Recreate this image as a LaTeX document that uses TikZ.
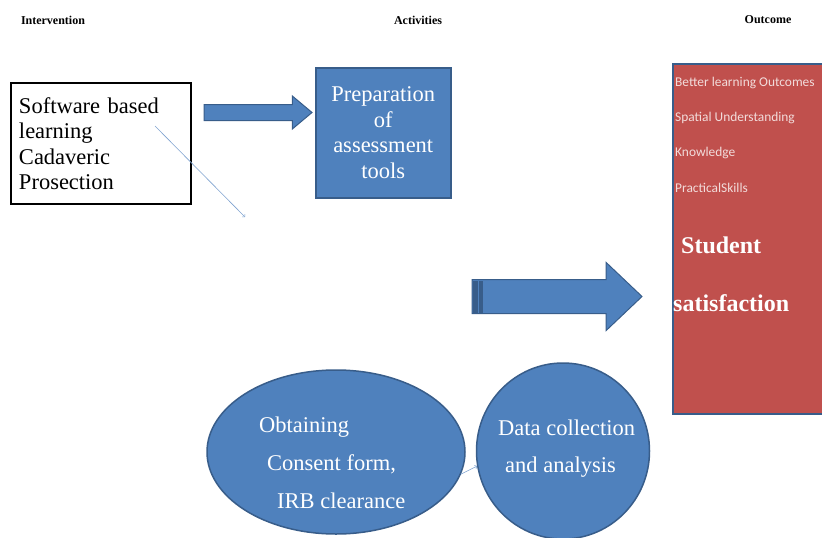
\documentclass[tikz,border=0pt]{standalone}
\usepackage{fontspec}
\setmainfont{Liberation Serif}
\newfontfamily\calfont{Carlito}
\usetikzlibrary{shapes.geometric,shapes.arrows}

\definecolor{boxblue}{HTML}{4F81BD}
\definecolor{edgeblue}{HTML}{385D8A}
\definecolor{boxred}{HTML}{C0504D}
\definecolor{lineblue}{HTML}{7FA3D0}
\definecolor{pinktext}{HTML}{F2DCDB}

\begin{document}
\begin{tikzpicture}[x=1pt,y=-1pt,
    header/.style={font=\fontsize{12}{14}\selectfont\bfseries},
    bluebox/.style={draw=edgeblue,fill=boxblue,line width=1.5pt},
    bigtext/.style={font=\fontsize{22.5}{25.5}\selectfont},
    blockarrow/.style={single arrow,draw=edgeblue,fill=boxblue,line width=1pt,
      anchor=tail,inner sep=0pt,outer sep=0pt},
    smalltext/.style={font=\calfont\fontsize{13.4}{15}\selectfont,text=pinktext,
      anchor=west,inner sep=0pt},
    bigwhite/.style={font=\fontsize{24}{26}\selectfont\bfseries,text=white,
      anchor=west,inner sep=0pt},
    thinarrow/.style={draw=lineblue,line width=0.6pt,-to}]
  \clip (0,0) rectangle (822,538);
  \fill[white] (0,0) rectangle (822,538);

  % column headings
  \node[header] (hint) at (53,20) {Intervention};
  \node[header] (hact) at (418,20) {Activities};
  \node[header] (hout) at (768,20) {Outcome};

  % intervention
  \node[draw=black,line width=2pt,minimum width=180pt,minimum height=121pt,
    text width=164pt,align=left,bigtext,anchor=north west] (soft) at (10,82)
    {Software based\\learning\\Cadaveric\\Prosection};

  % activities
  \node[bluebox,minimum width=135pt,minimum height=130pt,text width=128pt,
    align=center,bigtext,text=white,anchor=north west] (prep) at (315,67)
    {Preparation\\of\\assessment\\tools};

  \node[blockarrow,minimum height=108pt,minimum width=32pt,inner ysep=7.5pt,
    single arrow head extend=8.5pt,single arrow tip angle=80] (arrone) at (204,112.5) {};

  \coordinate (swstart) at (155,126);
  \coordinate (swend) at (245,217);
  \draw[thinarrow] (swstart) -- (swend);

  \node[blockarrow,minimum height=170pt,minimum width=67pt,inner ysep=16.5pt,
    single arrow head extend=17pt,single arrow tip angle=87] (arrtwo) at (472,296.5) {};
  \fill[edgeblue] (472.5,280.5) rectangle (483,312.5);
  \draw[boxblue,line width=1pt] (478,280.5) -- (478,312.5);

  \node[ellipse,bluebox,minimum width=258pt,minimum height=164pt,inner sep=0pt] (obtain) at (336,452) {};
  \node[ellipse,bluebox,minimum width=173pt,minimum height=176pt,inner sep=0pt] (data) at (563,451) {};
  \draw[thinarrow] (obtain.-10) -- (data.190);

  \node[font=\fontsize{22.5}{38}\selectfont,text=white,align=left,anchor=west,inner sep=0pt] (obtaintxt) at (259,463)
    {Obtaining\\\hspace*{8pt}Consent form,\\\hspace*{18pt}IRB clearance};
  \node[font=\fontsize{22.5}{37}\selectfont,text=white,align=left,anchor=west,inner sep=0pt] (datatxt) at (498,449)
    {Data collection\\\hspace*{7pt}and analysis};

  % outcome
  \node[draw=edgeblue,fill=boxred,line width=1.5pt,minimum width=170pt,minimum height=350pt,
    anchor=north west] (outcome) at (672,63) {};
  \node[smalltext] (better) at (675,83) {Better learning Outcomes};
  \node[smalltext] (spatial) at (675,118) {Spatial Understanding};
  \node[smalltext] (know) at (675,153) {Knowledge};
  \node[smalltext] (skills) at (675,188) {PracticalSkills};
  \node[bigwhite] (student) at (681,245) {Student};
  \node[bigwhite] (satis) at (673,303) {satisfaction};
\end{tikzpicture}
\end{document}
